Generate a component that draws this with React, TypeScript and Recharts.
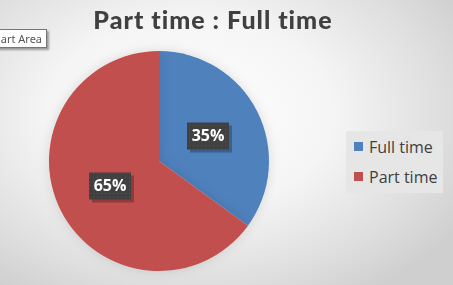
import React from "react";
import { PieChart, Pie, Cell, Legend } from "recharts";

const categories = ["Full time", "Part time"];
const shares = [35, 65];
const colors = ["#4F81BD", "#C0504D"];
const chartTitle = "Part time : Full time";

const data = categories.map((name, i) => ({ name, value: shares[i] }));

const RAD = Math.PI / 180;

const renderLabel = (props: any) => {
  const { cx, cy, midAngle, outerRadius, value } = props;
  const r = outerRadius * 0.5;
  const x = cx + r * Math.cos(-midAngle * RAD);
  const y = cy + r * Math.sin(-midAngle * RAD);
  const w = 42;
  const h = 27;
  return (
    <g>
      <rect x={x - w / 2 + 3} y={y - h / 2 + 3} width={w} height={h} fill="rgba(0,0,0,0.25)" />
      <rect x={x - w / 2} y={y - h / 2} width={w} height={h} fill="#404040" />
      <rect x={x - w / 2} y={y - h / 2} width={w} height={h} fill="url(#dots)" />
      <text
        x={x}
        y={y + 1}
        textAnchor="middle"
        dominantBaseline="middle"
        fill="#ffffff"
        fontFamily="'Open Sans', sans-serif"
        fontWeight={700}
        fontSize={16}
      >
        {`${value}%`}
      </text>
    </g>
  );
};

const LegendBox = () => (
  <div
    style={{
      background: "#e6e6e6",
      width: 97,
      height: 62,
      boxSizing: "border-box",
      paddingLeft: 8,
      paddingTop: 2,
      fontFamily: "'Open Sans', sans-serif",
      fontSize: 16,
      color: "#404040",
    }}
  >
    {categories.map((c, i) => (
      <div key={c} style={{ display: "flex", alignItems: "center", height: 27, marginTop: i === 0 ? 0 : 3 }}>
        <span style={{ width: 9, height: 9, background: colors[i], display: "inline-block", marginRight: 6 }} />
        <span>{c}</span>
      </div>
    ))}
  </div>
);

export default function App() {
  return (
    <div
      style={{
        position: "fixed",
        left: 0,
        top: 0,
        width: 453,
        height: 285,
        overflow: "hidden",
        background:
          "radial-gradient(ellipse 70% 75% at 42% 40%, #ffffff 0%, #f5f5f5 45%, #dedede 80%, #cfcfcf 100%)",
      }}
    >
      <PieChart
        width={453}
        height={285}
        margin={{ top: 0, right: 0, bottom: 0, left: 0 }}
        style={{ position: "absolute", left: 0, top: 0 }}
      >
        <defs>
          <pattern id="dots" width="4" height="4" patternUnits="userSpaceOnUse">
            <rect x="1" y="1" width="1" height="1" fill="#555555" />
          </pattern>
          <filter id="glow" x="-20%" y="-20%" width="140%" height="140%">
            <feDropShadow dx="0" dy="0" stdDeviation="6" floodColor="#000000" floodOpacity="0.12" />
          </filter>
        </defs>
        <text
          x={213}
          y={29}
          textAnchor="middle"
          fontFamily="Lato, sans-serif"
          fontWeight={900}
          fontSize={25}
          letterSpacing={1}
          fill="#404040"
        >
          {chartTitle}
        </text>
        <Pie
          data={data}
          dataKey="value"
          nameKey="name"
          cx={159}
          cy={161}
          outerRadius={110}
          startAngle={90}
          endAngle={-270}
          stroke="none"
          label={renderLabel}
          labelLine={false}
          isAnimationActive={false}
          style={{ filter: "url(#glow)" }}
        >
          {data.map((d, i) => (
            <Cell key={d.name} fill={colors[i]} />
          ))}
        </Pie>
        <Legend
          content={<LegendBox />}
          wrapperStyle={{ position: "absolute", left: 346, top: 131, width: 97 }}
        />
      </PieChart>
      <div
        style={{
          position: "absolute",
          left: -18,
          top: 29,
          height: 17,
          padding: "0 4px",
          background: "#ffffff",
          border: "1px solid #767676",
          boxShadow: "2px 2px 2px rgba(0,0,0,0.35)",
          fontFamily: "'Noto Sans', sans-serif",
          fontSize: 11,
          lineHeight: "17px",
          color: "#575757",
        }}
      >
        Chart Area
      </div>
    </div>
  );
}
